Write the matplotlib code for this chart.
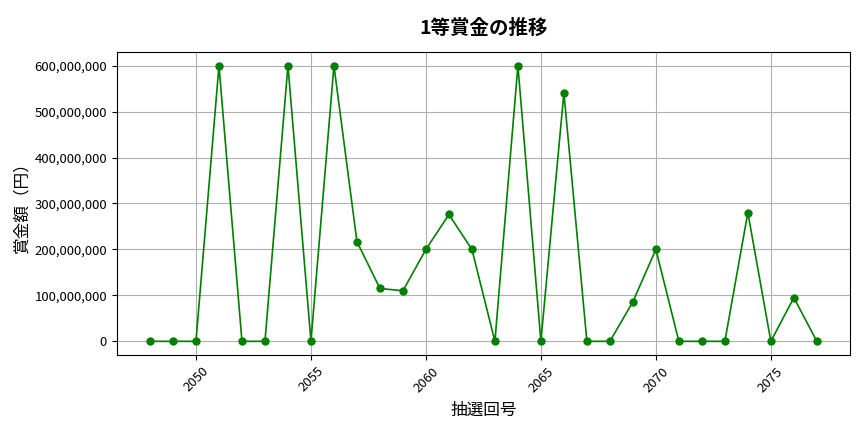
import matplotlib
matplotlib.use("Agg")
import matplotlib.pyplot as plt
from matplotlib.ticker import FuncFormatter

plt.rcParams['font.family'] = ['Noto Sans CJK JP', 'DejaVu Sans']

draws = list(range(2048, 2078))
prizes = [0, 0, 0, 600000000, 0, 0, 600000000, 0, 600000000, 217000000,
          115000000, 110000000, 200000000, 276000000, 200000000, 0, 600000000, 0,
          541000000, 0, 0, 86000000, 200000000, 0, 0, 0, 280000000, 0, 95000000, 0]

fig, ax = plt.subplots(figsize=(8.64, 4.32), dpi=100)
fig.subplots_adjust(left=0.135, right=0.984, top=0.88, bottom=0.178)
ax.plot(draws, prizes, color='green', marker='o', markersize=5, linewidth=1.2)
ax.set_title('1等賞金の推移', fontsize=14, fontweight='bold', pad=13)
ax.set_xlabel('抽選回号', fontsize=12, labelpad=5)
ax.set_ylabel('賞金額（円）', fontsize=12, labelpad=3)
ax.yaxis.set_major_formatter(FuncFormatter(lambda v, p: f'{int(v):,}'))
ax.tick_params(axis='both', labelsize=9.5)
plt.setp(ax.get_xticklabels(), rotation=45)
ax.grid(True)
fig.savefig('out.png', dpi=100)
